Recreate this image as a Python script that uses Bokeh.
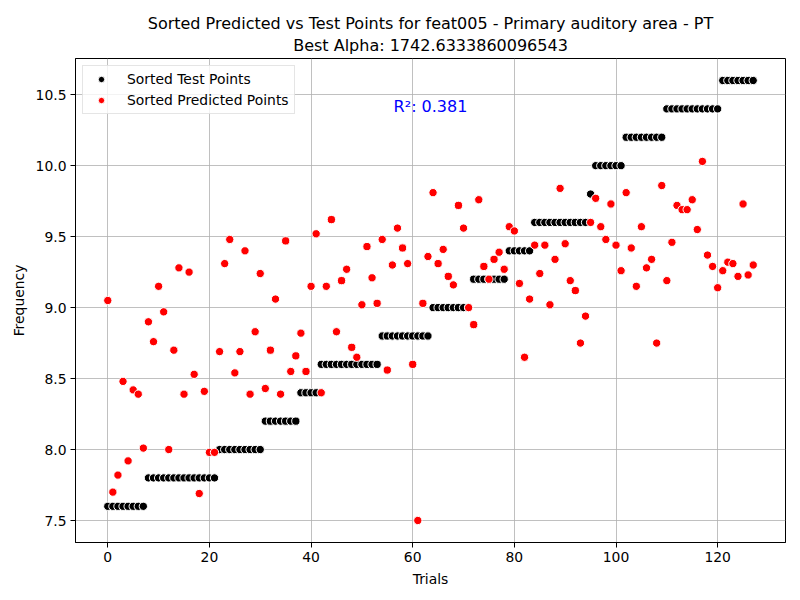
from bokeh.plotting import figure
from bokeh.models import Label, Title, Legend, LegendItem, FixedTicker, Range1d, ColumnDataSource
from bokeh.embed import file_html
from bokeh.resources import INLINE

title_lines = ["Sorted Predicted vs Test Points for feat005 - Primary auditory area - PT",
               "Best Alpha: 1742.6333860096543"]
r2_text = "R²: 0.381"

trials = list(range(128))

test_points = [
    7.6, 7.6, 7.6, 7.6, 7.6, 7.6, 7.6, 7.6,
    7.8, 7.8, 7.8, 7.8, 7.8, 7.8, 7.8, 7.8, 7.8, 7.8, 7.8, 7.8, 7.8, 7.8,
    8.0, 8.0, 8.0, 8.0, 8.0, 8.0, 8.0, 8.0, 8.0,
    8.2, 8.2, 8.2, 8.2, 8.2, 8.2, 8.2,
    8.4, 8.4, 8.4, 8.4,
    8.6, 8.6, 8.6, 8.6, 8.6, 8.6, 8.6, 8.6, 8.6, 8.6, 8.6, 8.6,
    8.8, 8.8, 8.8, 8.8, 8.8, 8.8, 8.8, 8.8, 8.8, 8.8,
    9.0, 9.0, 9.0, 9.0, 9.0, 9.0, 9.0, 9.0,
    9.2, 9.2, 9.2, 9.2, 9.2, 9.2, 9.2,
    9.4, 9.4, 9.4, 9.4, 9.4,
    9.6, 9.6, 9.6, 9.6, 9.6, 9.6, 9.6, 9.6, 9.6, 9.6, 9.6,
    9.8,
    10.0, 10.0, 10.0, 10.0, 10.0, 10.0,
    10.2, 10.2, 10.2, 10.2, 10.2, 10.2, 10.2, 10.2,
    10.4, 10.4, 10.4, 10.4, 10.4, 10.4, 10.4, 10.4, 10.4, 10.4, 10.4,
    10.6, 10.6, 10.6, 10.6, 10.6, 10.6, 10.6,
]

predicted_points = [
    9.05, 7.70, 7.82, 8.48, 7.92, 8.42, 8.39, 8.01, 8.90, 8.76,
    9.15, 8.97, 8.00, 8.70, 9.28, 8.39, 9.25, 8.53, 7.69, 8.41,
    7.98, 7.98, 8.69, 9.31, 9.48, 8.54, 8.69, 9.40, 8.39, 8.83,
    9.24, 8.43, 8.70, 9.06, 8.39, 9.47, 8.55, 8.66, 8.82, 8.55,
    9.15, 9.52, 8.40, 9.15, 9.62, 8.83, 9.19, 9.27, 8.72, 8.65,
    9.02, 9.43, 9.21, 9.03, 9.48, 8.56, 9.30, 9.56, 9.42, 9.31,
    8.60, 7.50, 9.03, 9.36, 9.81, 9.31, 9.41, 9.22, 9.16, 9.72,
    9.56, 9.00, 8.88, 9.76, 9.29, 9.20, 9.34, 9.39, 9.27, 9.57,
    9.54, 9.17, 8.65, 9.06, 9.44, 9.24, 9.44, 9.02, 9.34, 9.84,
    9.45, 9.19, 9.12, 8.75, 8.94, 9.60, 9.77, 9.57, 9.48, 9.73,
    9.44, 9.26, 9.81, 9.42, 9.15, 9.57, 9.28, 9.34, 8.75, 9.86,
    9.19, 9.46, 9.72, 9.69, 9.69, 9.76, 9.55, 10.03, 9.37, 9.29,
    9.14, 9.26, 9.32, 9.31, 9.22, 9.73, 9.23, 9.30,
]

x_ticks = [0, 20, 40, 60, 80, 100, 120]
y_ticks = [7.5, 8.0, 8.5, 9.0, 9.5, 10.0, 10.5]
y_tick_labels = ["7.5", "8.0", "8.5", "9.0", "9.5", "10.0", "10.5"]

FONT = "DejaVu Sans"

p = figure(width=792, height=592, output_backend="svg", toolbar_location=None,
           title=None,
           x_range=Range1d(-6.35, 133.35), y_range=Range1d(7.345, 10.755),
           min_border_left=75, min_border_right=7, min_border_top=58, min_border_bottom=50)

# two-line title; the second line goes in first so it sits next to the plot
p.add_layout(Title(text=title_lines[1], align="center", text_font=FONT, text_font_size="16px",
                   text_font_style="normal", text_color="black", standoff=7), "above")
p.add_layout(Title(text=title_lines[0], align="center", text_font=FONT, text_font_size="16px",
                   text_font_style="normal", text_color="black", standoff=-5), "above")

src = ColumnDataSource(dict(trial=trials, test=test_points, pred=predicted_points))

r_test = p.scatter("trial", "test", source=src, size=8.3, fill_color="black",
                   line_color="white", line_width=1)
r_pred = p.scatter("trial", "pred", source=src, size=8.3, fill_color="red",
                   line_color="white", line_width=1)

p.add_layout(Label(x=63.5, y=10.414, text=r2_text, text_align="center", text_baseline="middle",
                   text_color="blue", text_font=FONT, text_font_size="16px"))

legend = Legend(items=[LegendItem(label="Sorted Test Points", renderers=[r_test]),
                       LegendItem(label="Sorted Predicted Points", renderers=[r_pred])],
                location="top_left", margin=7, padding=5, spacing=5,
                label_text_font=FONT, label_text_font_size="13.9px", label_text_color="black",
                glyph_width=26, glyph_height=16, label_height=16, label_standoff=13,
                border_line_color="#cccccc", border_line_width=1,
                background_fill_alpha=0.8)
p.add_layout(legend)

p.xaxis.ticker = FixedTicker(ticks=x_ticks)
p.yaxis.ticker = FixedTicker(ticks=y_ticks)
p.yaxis.major_label_overrides = {t: s for t, s in zip(y_ticks, y_tick_labels)}

p.xaxis.axis_label = "Trials"
p.yaxis.axis_label = "Frequency"
for ax in p.axis:
    ax.axis_label_text_font = FONT
    ax.axis_label_text_font_size = "13.9px"
    ax.axis_label_text_font_style = "normal"
    ax.axis_label_text_color = "black"
    ax.major_label_text_font = FONT
    ax.major_label_text_font_size = "13.9px"
    ax.major_label_text_color = "black"
    ax.axis_line_color = "black"
    ax.major_tick_line_color = "black"
    ax.major_tick_out = 5
    ax.major_tick_in = 0
    ax.minor_tick_line_color = None
    ax.axis_label_standoff = 6
    ax.major_label_standoff = 4

p.grid.grid_line_color = "#b0b0b0"
p.grid.grid_line_width = 0.8
p.outline_line_color = "black"
p.outline_line_width = 1
p.outline_line_alpha = 1

open("out.html", "w").write(file_html(p, INLINE))
